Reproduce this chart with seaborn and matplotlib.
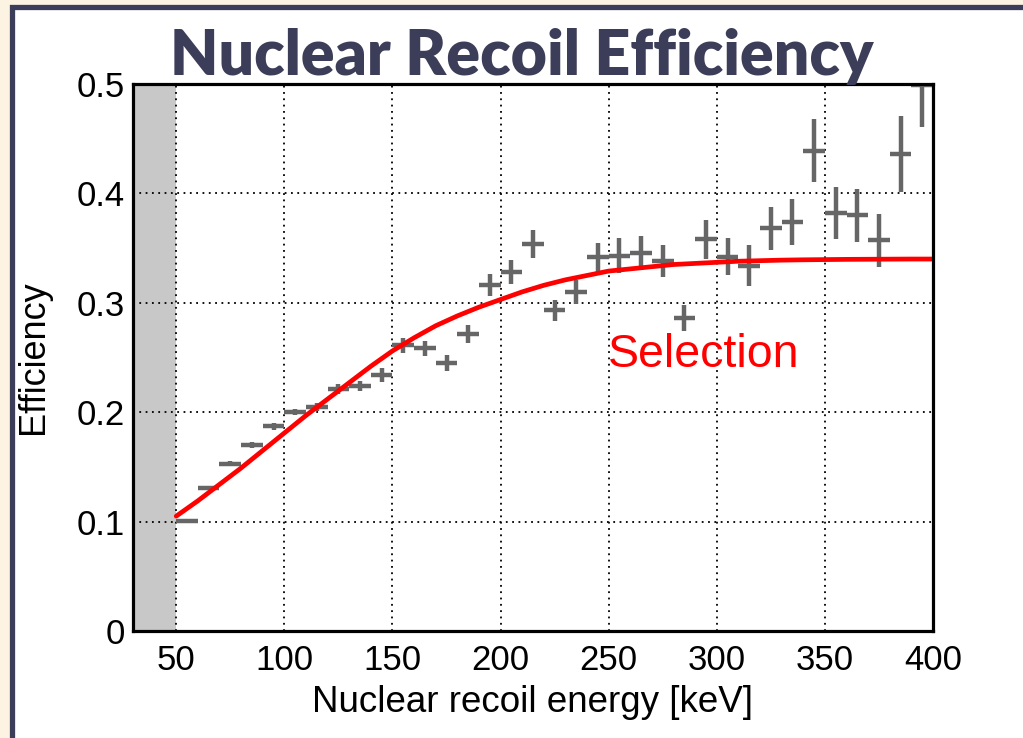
import matplotlib
matplotlib.use("Agg")
import matplotlib.pyplot as plt
import seaborn as sns
from matplotlib.patches import Rectangle
from matplotlib.ticker import MultipleLocator, FixedLocator

# ---------------- data ----------------
energy_bins = [55, 65, 75, 85, 95, 105, 115, 125, 135, 145, 155, 165, 175, 185, 195,
               205, 215, 225, 235, 245, 255, 265, 275, 285, 295, 305, 315, 325, 335,
               345, 355, 365, 375, 385, 395]
efficiency = [0.101, 0.131, 0.153, 0.170, 0.187, 0.200, 0.2045, 0.221, 0.224, 0.234,
              0.261, 0.2585, 0.245, 0.2715, 0.3165, 0.3285, 0.3535, 0.293, 0.3095,
              0.3415, 0.343, 0.3455, 0.3385, 0.286, 0.358, 0.342, 0.334, 0.368, 0.374,
              0.439, 0.382, 0.380, 0.357, 0.436, 0.499]
efficiency_err = [0.001, 0.0015, 0.002, 0.0025, 0.003, 0.003, 0.0035, 0.0045, 0.0045,
                  0.006, 0.007, 0.007, 0.007, 0.008, 0.010, 0.011, 0.013, 0.010, 0.011,
                  0.013, 0.016, 0.0155, 0.0145, 0.012, 0.018, 0.017, 0.019, 0.020, 0.021,
                  0.029, 0.024, 0.024, 0.024, 0.035, 0.038]
bin_half_width = [5] * len(energy_bins)

curve_energy = [50, 60, 70, 80, 90, 100, 110, 120, 130, 140, 150, 160, 170, 180, 190,
                200, 210, 220, 230, 240, 250, 260, 270, 280, 290, 300, 310, 320, 330,
                340, 350, 360, 370, 380, 390, 400]
curve_eff = [0.105, 0.119, 0.134, 0.149, 0.165, 0.181, 0.197, 0.212, 0.227, 0.242,
             0.256, 0.268, 0.279, 0.288, 0.296, 0.303, 0.310, 0.316, 0.321, 0.325,
             0.329, 0.331, 0.333, 0.335, 0.336, 0.337, 0.338, 0.3385, 0.339, 0.3393,
             0.3395, 0.3397, 0.3398, 0.3399, 0.340, 0.340]

x_ticks = [50, 100, 150, 200, 250, 300, 350, 400]
x_tick_labels = ["50", "100", "150", "200", "250", "300", "350", "400"]
y_ticks = [0, 0.1, 0.2, 0.3, 0.4, 0.5]
y_tick_labels = ["0", "0.1", "0.2", "0.3", "0.4", "0.5"]

title = "Nuclear Recoil Efficiency"
x_label = "Nuclear recoil energy [keV]"
y_label = "Efficiency"
curve_label = "Selection"

# ---------------- style ----------------
sns.set_theme(style="white")
plt.rcParams["font.family"] = ["Liberation Sans", "DejaVu Sans"]

W, H = 1023, 738
fig = plt.figure(figsize=(W / 100, H / 100), dpi=100)
fig.patch.set_facecolor("#fdf3e3")

# white slide panel with dark border (top & left)
fig.patches.append(Rectangle((11.5 / W, -0.05), 1.2, (H - 6.5) / H + 0.05,
                             transform=fig.transFigure, facecolor="white",
                             edgecolor="#3c3d58", linewidth=3.8, zorder=-5))

ax = fig.add_axes([133 / W, 107 / H, 800 / W, 547 / H])
ax.set_facecolor("white")

# shaded excluded region
ax.axvspan(30, 50, color="#c8c8c8", zorder=0, lw=0)

# data points with error bars
ax.errorbar(energy_bins, efficiency, xerr=bin_half_width, yerr=efficiency_err,
            fmt="none", ecolor="#666666", elinewidth=3.2, capsize=0, zorder=3)

# selection curve
sns.lineplot(x=curve_energy, y=curve_eff, color="#ff0000", linewidth=3.4,
             ax=ax, zorder=4, sort=False)

ax.text(249.5, 0.241, curve_label, color="#ff0000", fontsize=33.5,
        va="baseline", ha="left", zorder=5)

ax.set_xlim(30, 400)
ax.set_ylim(0, 0.5)
ax.xaxis.set_major_locator(FixedLocator(x_ticks))
ax.set_xticklabels(x_tick_labels)
ax.xaxis.set_minor_locator(MultipleLocator(10))
ax.yaxis.set_major_locator(FixedLocator(y_ticks))
ax.set_yticklabels(y_tick_labels)
ax.yaxis.set_minor_locator(MultipleLocator(0.02))

ax.grid(True, which="major", color="black", linestyle=(0, (1, 2.5)), linewidth=1.3)
ax.set_axisbelow(False)
for gl in ax.get_xgridlines() + ax.get_ygridlines():
    gl.set_zorder(1)

ax.tick_params(axis="both", which="both", direction="in", color="black",
               top=False, right=False, width=1.5, labelsize=25, labelcolor="black")
ax.tick_params(axis="x", which="major", length=10, pad=9)
ax.tick_params(axis="x", which="minor", length=5.8)
ax.tick_params(axis="y", which="major", length=17, pad=6)
ax.tick_params(axis="y", which="minor", length=8.6)

for s in ax.spines.values():
    s.set_visible(True)
    s.set_color("black")
    s.set_linewidth(2.3)
    s.set_zorder(6)

ax.set_xlabel(x_label, fontsize=26.5, color="black")
ax.set_ylabel(y_label, fontsize=26, color="black")
ax.xaxis.set_label_coords(0.5, -(703 - 631) / 547)
ax.xaxis.label.set_va("center")
ax.yaxis.set_label_coords(-(133 - 33) / 800, 0.5)
ax.yaxis.label.set_va("center")

fig.text(522 / W, 1 - 75 / H, title, ha="center", va="baseline", fontsize=45,
         fontweight="heavy", family=["Lato", "DejaVu Sans"], color="#3c3d58",
         zorder=10)

fig.savefig("out.png", dpi=100, facecolor=fig.get_facecolor())
